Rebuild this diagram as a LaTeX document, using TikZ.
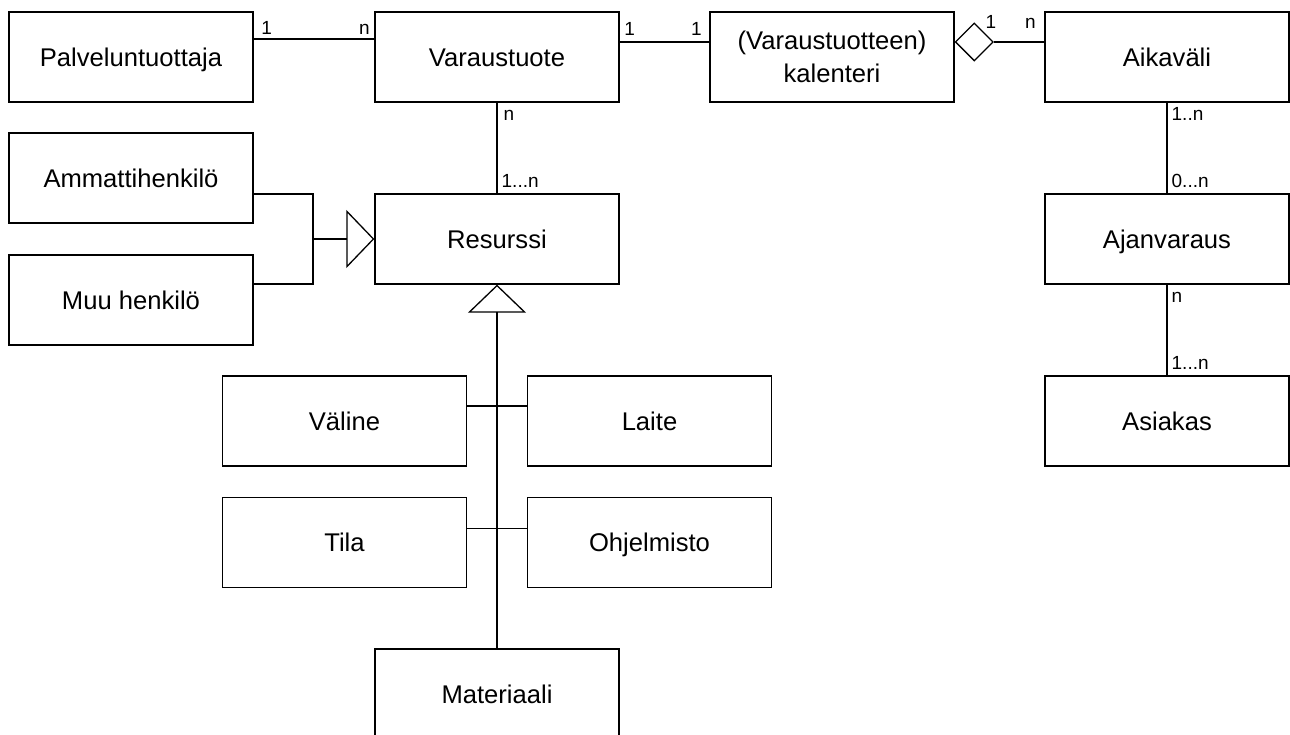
\documentclass[tikz,border=0pt]{standalone}
\usepackage{fontspec}
\setmainfont{Liberation Sans}
\usetikzlibrary{arrows.meta,shapes.geometric}

\tikzset{
  entity/.style={draw, line width=1.3pt, minimum width=244pt, minimum height=90pt,
    inner sep=0pt, text height=18.3pt, text depth=0pt,
    font=\fontsize{25.6}{33}\selectfont},
  mult/.style={font=\fontsize{19}{21}\selectfont, inner xsep=4pt, inner ysep=4pt,
    text height=13.5pt, text depth=0pt},
  link/.style={line width=1.3pt},
  gen/.style={link, -{Triangle[open, length=28pt, width=58pt]}},
  aggr/.style={draw, diamond, aspect=1, line width=1.3pt, minimum size=38pt, inner sep=0pt}
}

\begin{document}
\begin{tikzpicture}[x=1pt, y=-1pt]
    \useasboundingbox (0,0) rectangle (1290,735);

    % Top row
    \node[entity] (palv) at (131,57) {Palveluntuottaja};
    \node[entity] (vara) at (497,57) {Varaustuote};
    \node[entity, text height=, text depth=, align=center] (kal) at (832,57) {(Varaustuotteen)\\kalenteri};
    \node[entity] (aika) at (1167,57) {Aikaväli};

    % Resources
    \node[entity] (amm) at (131,178) {Ammattihenkilö};
    \node[entity] (muu) at (131,300) {Muu henkilö};
    \node[entity] (res) at (497,239) {Resurssi};
    \node[entity] (valine) at (344.5,421) {Väline};
    \node[entity] (laite) at (649.5,421) {Laite};
    \node[entity] (tila) at (344.5,542.5) {Tila};
    \node[entity] (ohj) at (649.5,542.5) {Ohjelmisto};
    \node[entity] (mat) at (497,694) {Materiaali};

    % Bookings
    \node[entity] (ajan) at (1167,239) {Ajanvaraus};
    \node[entity] (asiakas) at (1167,421) {Asiakas};

    % Associations
    \draw[link] ([yshift=18pt]palv.east) -- ([yshift=18pt]vara.west)
        node[mult, pos=0, above right, xshift=3pt] {1}
        node[mult, pos=1, above left] {n};
    \draw[link] ([yshift=15pt]vara.east) -- ([yshift=15pt]kal.west)
        node[mult, pos=0, above right, yshift=2pt] {1}
        node[mult, pos=1, above left, xshift=-3pt, yshift=2pt] {1};
    \node[aggr, anchor=west] (agg) at ([yshift=15pt]kal.east) {};
    \draw[link] (agg.east) -- ([yshift=15pt]aika.west)
        node[mult, pos=0, above right, xshift=-13pt, yshift=9pt] {1}
        node[mult, pos=1, above left, xshift=-4pt, yshift=9pt] {n};
    \draw[link] (vara.south) -- (res.north)
        node[mult, pos=0, below right, xshift=2pt] {n}
        node[mult, pos=1, above right, yshift=1pt] {1...n};
    \draw[link] (aika.south) -- (ajan.north)
        node[mult, pos=0, below right] {1..n}
        node[mult, pos=1, above right, yshift=1pt] {0...n};
    \draw[link] (ajan.south) -- (asiakas.north)
        node[mult, pos=0, below right] {n}
        node[mult, pos=1, above right, yshift=1pt] {1...n};

    % Generalisations
    \coordinate (hjoin) at (313,239);
    \draw[link] ([yshift=-16pt]amm.east) -| (hjoin) |- ([yshift=16pt]muu.east);
    \draw[gen] (hjoin) -- (res.west);
    \draw[gen] (mat.north) -- (res.south);
    \draw[link] ([yshift=15pt]valine.east) -- ([yshift=15pt]laite.west);
    \draw[link] ([yshift=14pt]tila.east) -- ([yshift=14pt]ohj.west);
\end{tikzpicture}
\end{document}
